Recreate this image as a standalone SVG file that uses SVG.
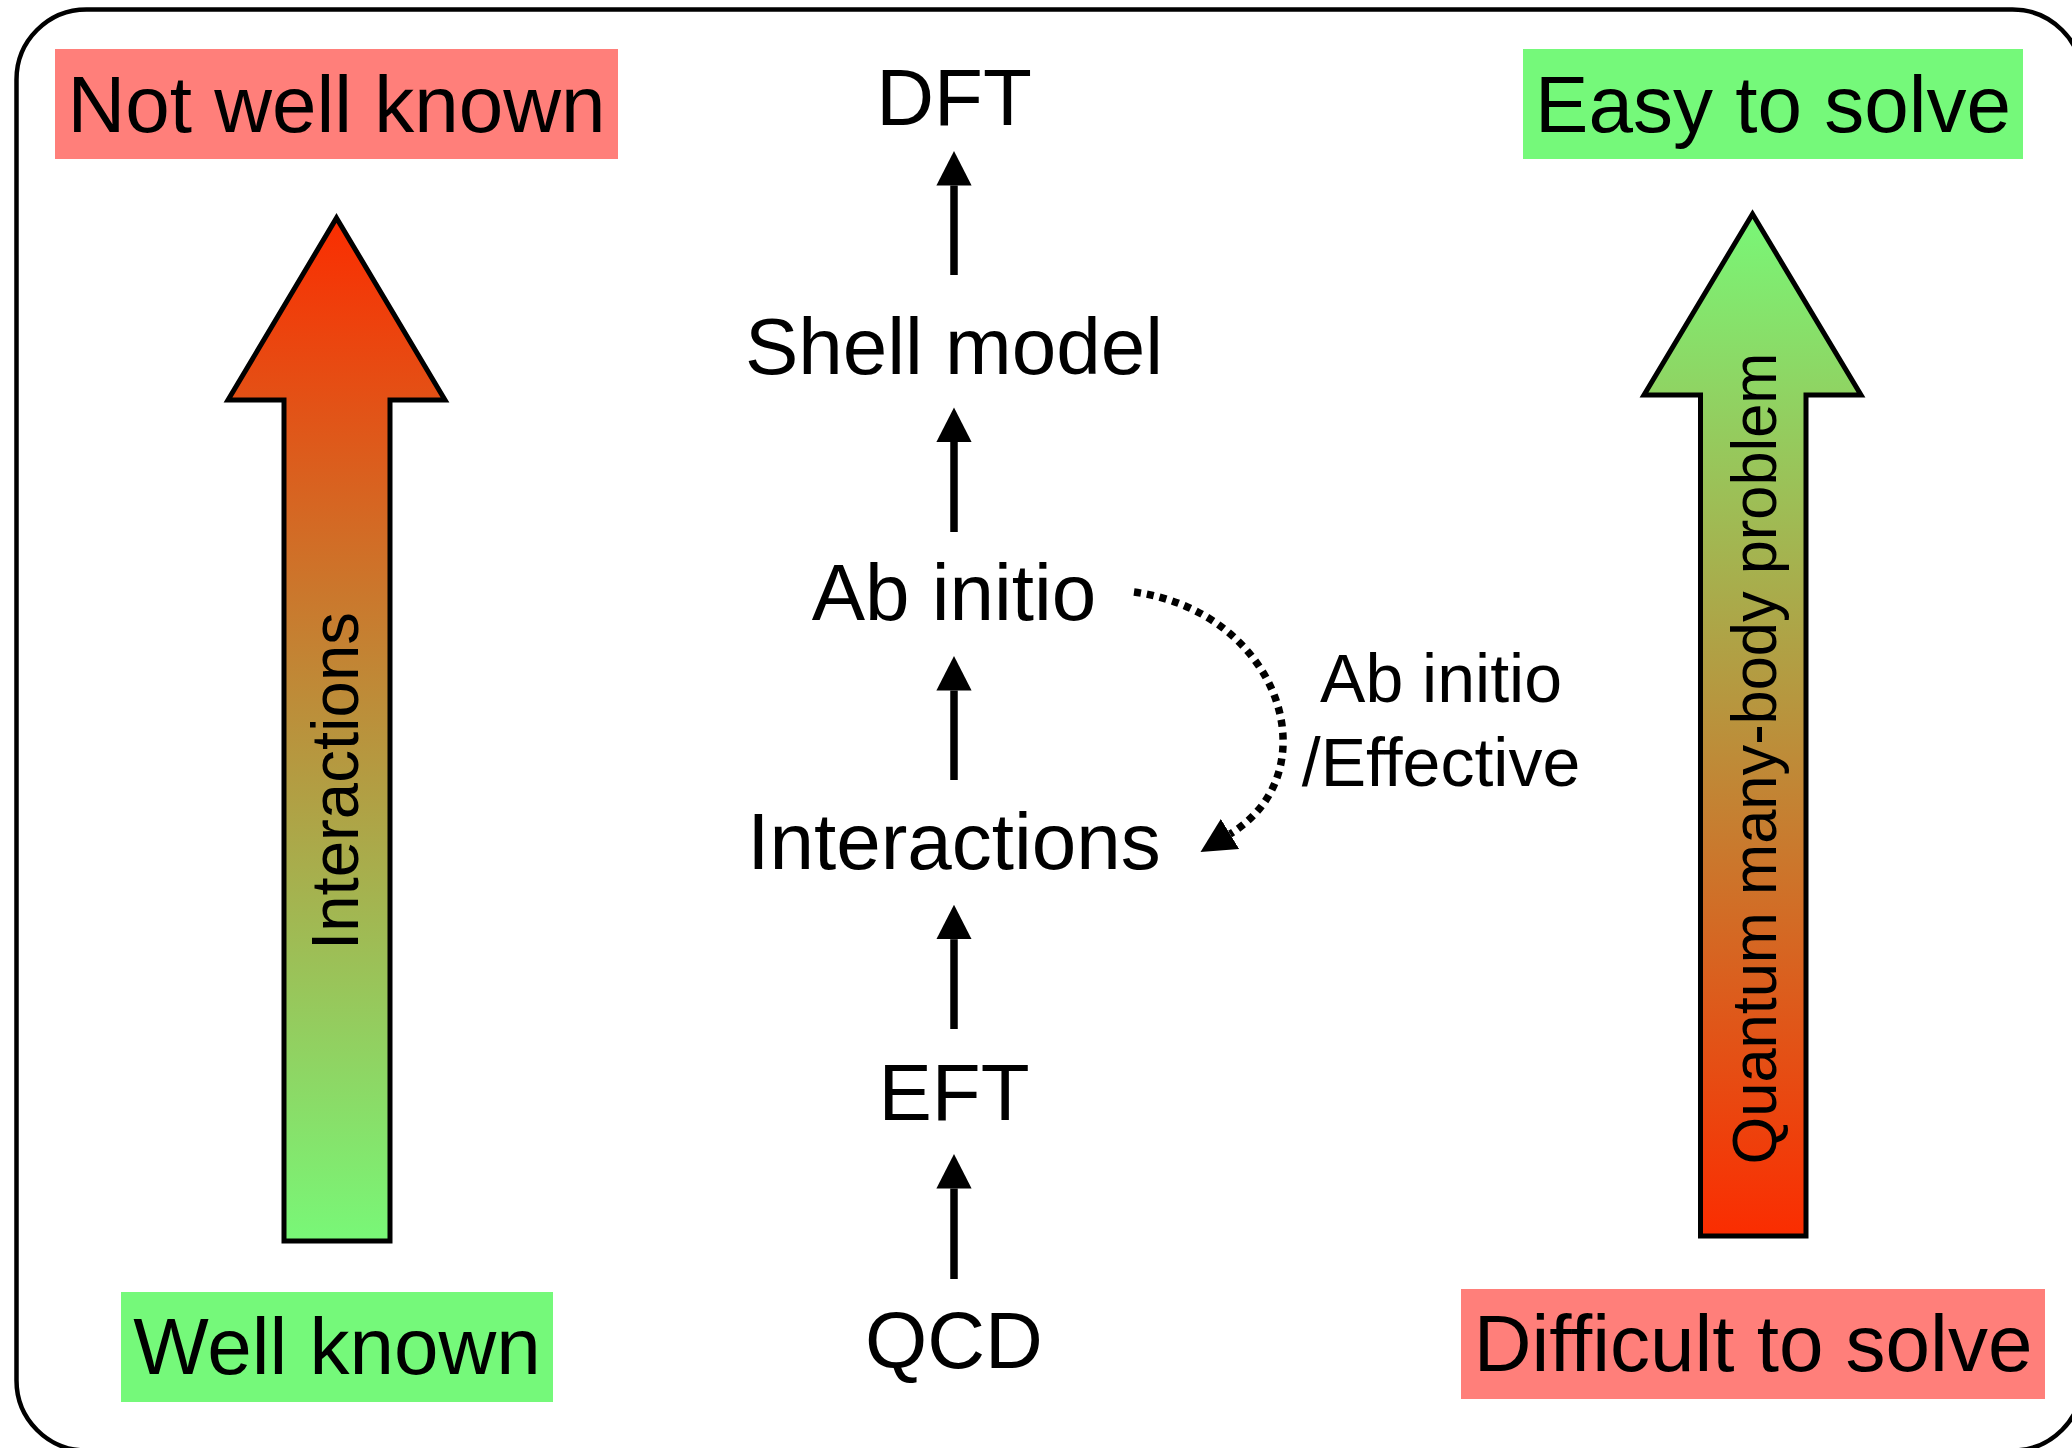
<svg xmlns="http://www.w3.org/2000/svg" width="2072" height="1448" viewBox="0 0 2072 1448">
  <style>
    text { font-family: "Liberation Sans", Arial, Helvetica, sans-serif; fill: #000; }
    .big { font-size: 80px; text-anchor: middle; }
    .mid { font-size: 66px; text-anchor: middle; }
    .lbl { font-size: 68px; text-anchor: middle; }
    .bad { fill: #FF7F7A; }
    .good { fill: #75F97A; }
    .conn { stroke: #000; stroke-width: 7.5; fill: none; marker-end: url(#head); }
    .dotted { stroke: #000; stroke-width: 7.5; fill: none; stroke-dasharray: 7 6; marker-end: url(#head); }
    .bigarrow { stroke: #000; stroke-width: 5; stroke-linejoin: miter; stroke-miterlimit: 10; }
  </style>
  <defs>
    <marker id="head" markerUnits="userSpaceOnUse" markerWidth="35" markerHeight="36" viewBox="0 0 35 36" refX="0" refY="18" orient="auto">
      <path d="M0,0.4 L34.5,18 L0,35.6 Z" fill="#000"/>
    </marker>
    <linearGradient id="gradLeft" gradientUnits="userSpaceOnUse" x1="0" y1="213" x2="0" y2="1243">
      <stop offset="0" stop-color="#FB2C00"/>
      <stop offset="1" stop-color="#78F878"/>
    </linearGradient>
    <linearGradient id="gradRight" gradientUnits="userSpaceOnUse" x1="0" y1="209" x2="0" y2="1238">
      <stop offset="0" stop-color="#78F878"/>
      <stop offset="1" stop-color="#FB2C00"/>
    </linearGradient>
  </defs>

  <rect x="0" y="0" width="2072" height="1448" fill="#fff"/>
  <rect id="frame" x="16.5" y="9.5" width="2066" height="1441" rx="70" ry="70" fill="none" stroke="#000" stroke-width="4.5"/>

  <g id="not-well-known">
    <rect class="bad" x="55" y="49" width="563" height="110"/>
    <text class="big" x="336.5" y="132">Not well known</text>
  </g>
  <g id="easy-to-solve">
    <rect class="good" x="1523" y="49" width="500" height="110"/>
    <text class="big" x="1773" y="132">Easy to solve</text>
  </g>
  <g id="well-known">
    <rect class="good" x="121" y="1292" width="432" height="110"/>
    <text class="big" x="337" y="1374">Well known</text>
  </g>
  <g id="difficult-to-solve">
    <rect class="bad" x="1461" y="1289" width="584" height="110"/>
    <text class="big" x="1753" y="1371">Difficult to solve</text>
  </g>

  <g id="left-arrow">
    <polygon class="bigarrow" fill="url(#gradLeft)" points="336.5,218 445,400 390,400 390,1241 284,1241 284,400 228,400"/>
    <text class="mid" transform="translate(358,781) rotate(-90)" x="0" y="0" textLength="338" lengthAdjust="spacingAndGlyphs">Interactions</text>
  </g>
  <g id="right-arrow">
    <polygon class="bigarrow" fill="url(#gradRight)" points="1752.5,214 1861,395 1806,395 1806,1236 1700.5,1236 1700.5,395 1644,395"/>
    <text class="mid" style="font-size:63px" transform="translate(1776,758.5) rotate(-90)" x="0" y="0" textLength="812" lengthAdjust="spacingAndGlyphs">Quantum many-body problem</text>
  </g>

  <g id="dft"><text class="big" x="954" y="124.5">DFT</text></g>
  <g id="shell-model"><text class="big" x="954" y="373.5">Shell model</text></g>
  <g id="ab-initio"><text class="big" x="954" y="620">Ab initio</text></g>
  <g id="interactions"><text class="big" x="954" y="869">Interactions</text></g>
  <g id="eft"><text class="big" x="954" y="1120">EFT</text></g>
  <g id="qcd"><text class="big" x="954" y="1368">QCD</text></g>
  <g id="ab-initio-effective">
    <text class="lbl" x="1441" y="702">Ab initio</text>
    <text class="lbl" x="1441" y="786">/Effective</text>
  </g>

  <g id="connectors">
    <line class="conn" x1="954" y1="275" x2="954" y2="185.5"/>
    <line class="conn" x1="954" y1="532" x2="954" y2="442"/>
    <line class="conn" x1="954" y1="780" x2="954" y2="690.5"/>
    <line class="conn" x1="954" y1="1029" x2="954" y2="939.2"/>
    <line class="conn" x1="954" y1="1279" x2="954" y2="1188.5"/>
    <path class="dotted" d="M1134,592 C1280,612 1332,772 1230,834"/>
  </g>
</svg>
